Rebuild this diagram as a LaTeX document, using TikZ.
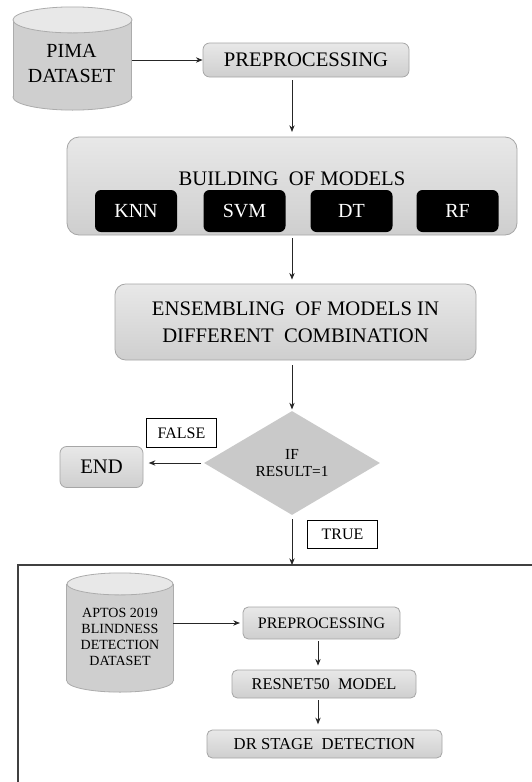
\documentclass[tikz,border=0pt]{standalone}
\usepackage{fontspec}
\setmainfont{Liberation Serif}
\usetikzlibrary{shapes.geometric,arrows.meta,calc}
\begin{document}
\begin{tikzpicture}[x=0.75pt,y=-0.75pt,
  arr/.style={-{Stealth[length=5pt,width=4pt]},line width=0.7pt,black!85},
  gbox/.style={rectangle,rounded corners=5pt,draw=gray!70,line width=0.6pt,
    top color=gray!18,bottom color=gray!38,inner sep=0pt,align=center,
    font=\fontsize{15.5}{18}\selectfont},
  blk/.style={rectangle,rounded corners=4.5pt,fill=black,text=white,inner sep=0pt,
    minimum width=61.5pt,minimum height=31.5pt,font=\fontsize{15}{18}\selectfont},
  lbl/.style={rectangle,draw=black,line width=0.7pt,fill=white,inner sep=0pt,
    minimum width=53pt,minimum height=22pt,font=\fontsize{12}{14}\selectfont},
  cylbody/.style={fill=gray!38,draw=gray!65,line width=0.6pt},
  cyltop/.style={fill=gray!18,draw=gray!65,line width=0.6pt}
]
\useasboundingbox (0,0) rectangle (532,782);
\fill[white] (0,0) rectangle (532,782);

% ---------- PIMA cylinder ----------
\node[rectangle,inner sep=0pt,minimum width=88.5pt,minimum height=77pt] (pima) at (72.5,58.5) {};
\path[cylbody] ([yshift=9.75pt]pima.south) ellipse [x radius=59.5,y radius=13];
\fill[gray!38] ([yshift=-9.75pt]pima.north west) rectangle ([yshift=9.75pt]pima.south east);
\draw[gray!65,line width=0.6pt] ([yshift=-9.75pt]pima.north west) -- ([yshift=9.75pt]pima.south west)
      ([yshift=-9.75pt]pima.north east) -- ([yshift=9.75pt]pima.south east);
\path[cyltop] ([yshift=-9.75pt]pima.north) ellipse [x radius=59.5,y radius=13];
\node[align=center,font=\fontsize{15}{18.75}\selectfont] (pimat) at (71.5,63) {PIMA\\DATASET};

% ---------- top flow ----------
\node[gbox,minimum width=154.5pt,minimum height=25.5pt] (pre1) at (306,60) {PREPROCESSING};
\draw[arr] (pima.east |- pre1.west) -- (pre1.west);

\node[gbox,rounded corners=9pt,minimum width=337.5pt,minimum height=73.5pt] (build) at (292,186) {};
\node[font=\fontsize{15.5}{18}\selectfont] (buildt) at (292,179) {BUILDING\ \ OF MODELS};
\node[blk] (knn) at (136,211) {KNN};
\node[blk] (svm) at (244.5,211) {SVM};
\node[blk] (dt) at (351.5,211) {DT};
\node[blk] (rf) at (457.5,211) {RF};

\draw[arr,shorten <=2pt,shorten >=3.5pt] (pre1.south -| build.north) -- (build.north);

\node[gbox,rounded corners=8pt,minimum width=270.75pt,minimum height=57pt,
      font=\fontsize{15.5}{20.25}\selectfont] (ens) at (295.5,322)
      {ENSEMBLING\ \ OF MODELS IN\\DIFFERENT\ \ COMBINATION};
\draw[arr,shorten <=2pt,shorten >=3pt] (build.south) -- (build.south |- ens.north);

\node[diamond,fill=gray!42,inner sep=0pt,minimum width=132pt,minimum height=78pt,
      align=center,font=\fontsize{11.5}{13}\selectfont] (dia) at (292,463)
      {IF\\RESULT=1};
\draw[arr,shorten <=3.5pt,shorten >=1pt] (ens.south -| dia.north) -- (dia.north);

\node[gbox,rounded corners=5pt,minimum width=62.25pt,minimum height=30.75pt] (end) at (101.5,467) {END};
\draw[arr,shorten <=2pt,shorten >=4pt] (dia.west) -- (dia.west -| end.east);

\node[lbl] (false) at (181.5,433) {FALSE};
\node[lbl,minimum height=21pt] (true) at (342.5,534) {TRUE};

% ---------- frame ----------
\coordinate (frtl) at (18,565);
\coordinate (frtr) at (533,565);
\coordinate (frbl) at (18,783);
\draw[black!75,line width=1.1pt] (frtr) -- (frtl) -- (frbl);
\draw[arr,shorten <=3pt] (dia.south) -- (dia.south |- frtl);

% ---------- APTOS cylinder ----------
\node[rectangle,inner sep=0pt,minimum width=79.5pt,minimum height=89pt] (aptos) at (120,632.5) {};
\path[cylbody] ([yshift=8.25pt]aptos.south) ellipse [x radius=53,y radius=11];
\fill[gray!38] ([yshift=-8.25pt]aptos.north west) rectangle ([yshift=8.25pt]aptos.south east);
\draw[gray!65,line width=0.6pt] ([yshift=-8.25pt]aptos.north west) -- ([yshift=8.25pt]aptos.south west)
      ([yshift=-8.25pt]aptos.north east) -- ([yshift=8.25pt]aptos.south east);
\path[cyltop] ([yshift=-8.25pt]aptos.north) ellipse [x radius=53,y radius=11];
\node[align=center,font=\fontsize{10.5}{12}\selectfont] (aptost) at (120,637)
      {APTOS 2019\\BLINDNESS\\DETECTION\\DATASET};

% ---------- bottom flow ----------
\coordinate (ax) at (318,700);
\node[gbox,rounded corners=4pt,minimum width=117.75pt,minimum height=24pt,
      font=\fontsize{12}{14}\selectfont] (pre2) at (321.5,623) {PREPROCESSING};
\draw[arr,shorten >=2pt] (aptos.east |- pre2.west) -- (pre2.west);

\node[gbox,rounded corners=4pt,minimum width=138pt,minimum height=21pt,
      font=\fontsize{12.3}{14}\selectfont] (res) at (324,684) {RESNET50\ \ MODEL};
\draw[arr,shorten <=1.5pt,shorten >=3pt] (pre2.south -| ax) -- (res.north -| ax);

\node[gbox,rounded corners=4pt,minimum width=176.25pt,minimum height=21pt,
      font=\fontsize{12.5}{14}\selectfont] (dr) at (324.5,744) {DR STAGE\ \ DETECTION};
\draw[arr,shorten <=1.5pt,shorten >=4pt] (res.south -| ax) -- (dr.north -| ax);
\end{tikzpicture}
\end{document}
